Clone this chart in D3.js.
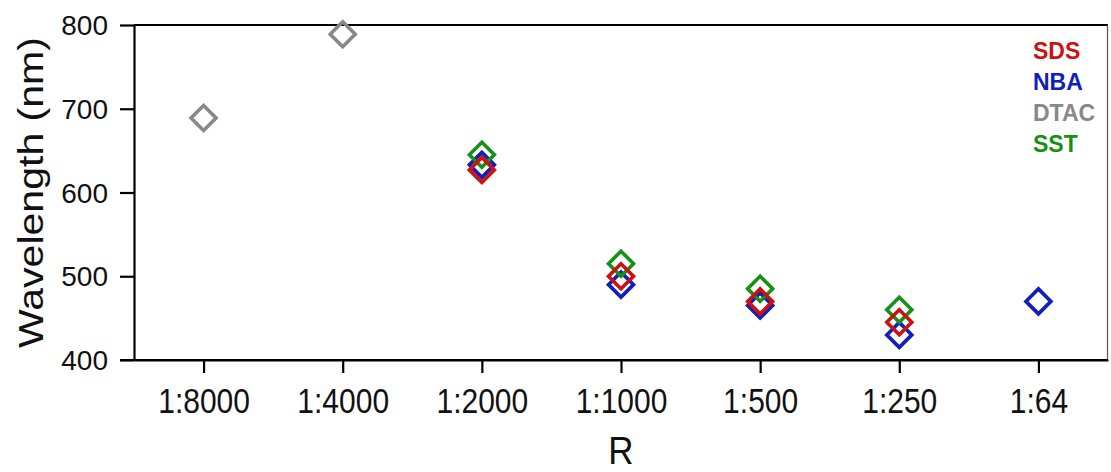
<!DOCTYPE html>
<html><head><meta charset="utf-8">
<script src="https://cdn.jsdelivr.net/npm/d3@7"></script>
<style>body{margin:0;background:#fff}svg{display:block;font-family:"Liberation Sans",Arial,sans-serif}</style>
</head><body><svg id="c" width="1111" height="472"></svg>
<script>
const categories = ["1:8000","1:4000","1:2000","1:1000","1:500","1:250","1:64"];
const sds  = [null, null, 627, 500, 470, 445, null];
const nba  = [null, null, 633, 490, 465, 430, 470];
const dtac = [689, 789, null, null, null, null, null];
const sst  = [null, null, 645, 515, 485, 460, null];
const yTicks = [400, 500, 600, 700, 800];
const seriesNames = ["SDS","NBA","DTAC","SST"];
const seriesColors = {SDS:"#cc1111", NBA:"#1020bb", DTAC:"#888888", SST:"#169016"};
const drawOrder = [["DTAC",dtac],["NBA",nba],["SST",sst],["SDS",sds]];

const svg = d3.select("#c");
const m = {l:134, r:3, t:25, b:112};
const W = 1111, H = 472;
const x = d3.scalePoint().domain(categories).range([m.l, W-m.r]).padding(0.5);
const y = d3.scaleLinear().domain([400,800]).range([H-m.b, m.t]);

svg.append("line").attr("x1",m.l).attr("x2",W-m.r).attr("y1",m.t).attr("y2",m.t).attr("stroke","#000").attr("stroke-width",2.2);
svg.append("line").attr("x1",W-m.r-0.5).attr("x2",W-m.r-0.5).attr("y1",m.t).attr("y2",H-m.b).attr("stroke","#555").attr("stroke-width",1.2);

const xa = svg.append("g").attr("transform",`translate(0,${H-m.b})`)
  .call(d3.axisBottom(x).tickSize(13).tickPadding(10).tickSizeOuter(0));
const ya = svg.append("g").attr("transform",`translate(${m.l},0)`)
  .call(d3.axisLeft(y).tickValues(yTicks).tickSize(14).tickPadding(12).tickSizeOuter(0));
[xa,ya].forEach(a=>{
  a.select(".domain").attr("stroke","#000").attr("stroke-width",2.2);
  a.selectAll(".tick line").attr("stroke","#000").attr("stroke-width",2.2);
  a.selectAll(".tick text").attr("fill","#111").attr("font-family","Liberation Sans, Arial, sans-serif");
});
ya.selectAll(".tick text").attr("font-size",28).attr("dy","0.34em");
xa.selectAll(".tick text").attr("font-size",30).attr("y",null).attr("dy",null)
  .attr("transform","translate(0,53) scale(1,1.15)");
svg.append("line").attr("x1",m.l-14).attr("x2",W-m.r).attr("y1",H-m.b).attr("y2",H-m.b).attr("stroke","#000").attr("stroke-width",2.2);

svg.append("text").attr("transform",`translate(43,${(m.t+H-m.b)/2}) rotate(-90) scale(1.14,1)`)
  .attr("text-anchor","middle").attr("font-size",36).attr("fill","#111").text("Wavelength (nm)");
svg.append("text").attr("transform",`translate(${(m.l+W-m.r)/2},464) scale(1,1.12)`).attr("text-anchor","middle")
  .attr("font-size",35).attr("fill","#111").text("R");

const s = 12.5;
const diamond = `M0,${-s}L${s},0L0,${s}L${-s},0Z`;
drawOrder.forEach(([name,vals])=>{
  svg.append("g").selectAll("path").data(categories.map((c,i)=>({c,v:vals[i]})).filter(d=>d.v!=null))
    .join("path").attr("d",diamond)
    .attr("transform",d=>`translate(${x(d.c)},${y(d.v)})`)
    .attr("fill","none").attr("stroke",seriesColors[name]).attr("stroke-width",3.6);
});

const lg = svg.append("g");
seriesNames.forEach((n,i)=>{
  lg.append("text").attr("x",1033).attr("y",59.3+i*30.8).attr("font-size",23).attr("font-weight","bold")
    .attr("fill",seriesColors[n]).text(n);
});
</script></body></html>
